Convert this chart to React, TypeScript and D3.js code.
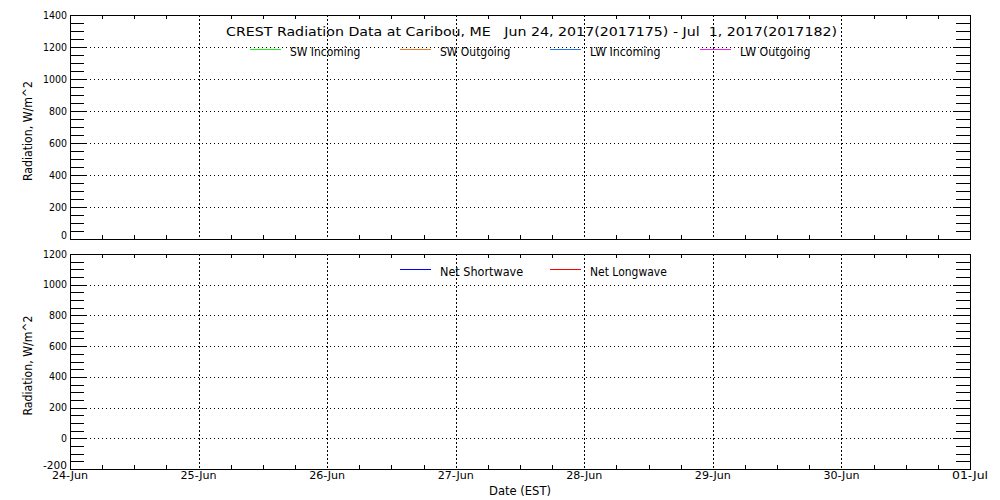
import React, { useEffect, useRef } from 'react';
import * as d3 from 'd3';

// chart text and values
const titleText = 'CREST Radiation Data at Caribou, ME   Jun 24, 2017(2017175) - Jul  1, 2017(2017182)';
const xAxisTitle = 'Date (EST)';
const yAxisTitle = 'Radiation, W/m^2';
const dateStart = '2017-06-24';
const dateEnd = '2017-07-01';
const dayLabels = ['24-Jun', '25-Jun', '26-Jun', '27-Jun', '28-Jun', '29-Jun', '30-Jun', '01-Jul'];
const topYTicks = [0, 200, 400, 600, 800, 1000, 1200, 1400];
const bottomYTicks = [-200, 0, 200, 400, 600, 800, 1000, 1200];
const topSeries = ['SW Incoming', 'SW Outgoing', 'LW Incoming', 'LW Outgoing'];
const bottomSeries = ['Net Shortwave', 'Net Longwave'];
// no measurements in this window: every series is empty
const swIncoming: [string, number][] = [];
const swOutgoing: [string, number][] = [];
const lwIncoming: [string, number][] = [];
const lwOutgoing: [string, number][] = [];
const netShortwave: [string, number][] = [];
const netLongwave: [string, number][] = [];

const seriesColor: Record<string, string> = {
  'SW Incoming': '#22ee22',
  'SW Outgoing': '#ee7722',
  'LW Incoming': '#2277ee',
  'LW Outgoing': '#ee22ee',
  'Net Shortwave': '#0000ff',
  'Net Longwave': '#ff0000',
};
const seriesData: Record<string, [string, number][]> = {
  'SW Incoming': swIncoming,
  'SW Outgoing': swOutgoing,
  'LW Incoming': lwIncoming,
  'LW Outgoing': lwOutgoing,
  'Net Shortwave': netShortwave,
  'Net Longwave': netLongwave,
};

const W = 1000;
const H = 500;
const left = 70;
const right = 970;
const FONT = 'DejaVu Sans';

const App: React.FC = () => {
  const ref = useRef<SVGSVGElement>(null);

  useEffect(() => {
    if (!ref.current) return;
    const svg = d3.select(ref.current);
    svg.selectAll('*').remove();

    const parse = d3.timeParse('%Y-%m-%d');
    const x = d3.scaleTime().domain([parse(dateStart)!, parse(dateEnd)!]).range([left, right]);
    const dayTicks = x.ticks(d3.timeDay.every(1)!);
    const minorX = x.ticks(d3.timeHour.every(6)!).filter((d) => d.getHours() !== 0);

    const panels = [
      { ticks: topYTicks, top: 15, bottom: 239, series: topSeries, legendY: 49.5, legendX0: 250, showX: false },
      { ticks: bottomYTicks, top: 254, bottom: 469, series: bottomSeries, legendX0: 400, legendY: 269.5, showX: true },
    ];

    panels.forEach((p) => {
      const lo = d3.min(p.ticks)!;
      const hi = d3.max(p.ticks)!;
      const y = d3.scaleLinear().domain([lo, hi]).range([p.bottom, p.top]);
      const g = svg.append('g').attr('shape-rendering', 'crispEdges');
      const px = (v: number) => Math.round(v) + 0.5;

      // horizontal dotted grid
      p.ticks
        .filter((t) => t !== lo && t !== hi)
        .forEach((t) => {
          g.append('line')
            .attr('x1', left).attr('x2', right)
            .attr('y1', px(y(t))).attr('y2', px(y(t)))
            .attr('stroke', '#000').attr('stroke-dasharray', '1,3');
          [[left, left + 17], [right - 17, right]].forEach(([a, b]) => {
            g.append('line')
              .attr('x1', a).attr('x2', b)
              .attr('y1', px(y(t))).attr('y2', px(y(t)))
              .attr('stroke', '#000');
          });
        });

      // minor y ticks every 50
      d3.range(lo, hi, 50)
        .filter((v) => v % 200 !== 0)
        .forEach((v) => {
          [[left, left + 14], [right - 14, right]].forEach(([a, b]) => {
            g.append('line')
              .attr('x1', a).attr('x2', b)
              .attr('y1', px(y(v))).attr('y2', px(y(v)))
              .attr('stroke', '#000');
          });
        });

      // vertical dashed day grid
      dayTicks.slice(1, -1).forEach((d) => {
        g.append('line')
          .attr('x1', px(x(d))).attr('x2', px(x(d)))
          .attr('y1', p.top).attr('y2', p.bottom)
          .attr('stroke', '#000').attr('stroke-dasharray', '2,2');
      });

      // minor x ticks every 6 hours
      minorX.forEach((d) => {
        [[p.top, p.top + 4], [p.bottom - 4, p.bottom]].forEach(([a, b]) => {
          g.append('line')
            .attr('x1', px(x(d))).attr('x2', px(x(d)))
            .attr('y1', a).attr('y2', b)
            .attr('stroke', '#000');
        });
      });

      // frame
      g.append('rect')
        .attr('x', left + 0.5).attr('y', p.top + 0.5)
        .attr('width', right - left).attr('height', p.bottom - p.top)
        .attr('fill', 'none').attr('stroke', '#000');

      // series lines (empty in this period)
      const line = d3
        .line<[string, number]>()
        .x((d) => x(d3.isoParse(d[0])!))
        .y((d) => y(d[1]));
      p.series.forEach((s) => {
        svg.append('path')
          .datum(seriesData[s])
          .attr('d', line)
          .attr('fill', 'none')
          .attr('stroke', seriesColor[s]);
      });

      // y tick labels (lowest one is lifted off the axis, like the original)
      p.ticks.forEach((t) => {
        svg.append('text')
          .attr('x', 67).attr('y', y(t) + (t === lo ? 0 : 3.5))
          .attr('text-anchor', 'end')
          .attr('font-family', FONT).attr('font-size', 10)
          .attr('textLength', String(t).length * 6).attr('lengthAdjust', 'spacingAndGlyphs')
          .text(String(t));
      });

      // y axis title
      const cy = (p.top + p.bottom) / 2 + 4;
      svg.append('text')
        .attr('transform', `translate(32,${cy}) rotate(-90)`)
        .attr('text-anchor', 'middle')
        .attr('font-family', FONT).attr('font-size', 13)
        .attr('textLength', 100).attr('lengthAdjust', 'spacingAndGlyphs')
        .text(yAxisTitle);

      // legend
      p.series.forEach((s, i) => {
        const lx = p.legendX0 + i * 150;
        svg.append('line')
          .attr('x1', lx).attr('x2', lx + 31)
          .attr('y1', p.legendY).attr('y2', p.legendY)
          .attr('stroke', seriesColor[s]).attr('stroke-width', 1)
          .attr('shape-rendering', 'crispEdges');
        svg.append('text')
          .attr('x', lx + 40).attr('y', p.legendY + 6.5)
          .attr('font-family', FONT).attr('font-size', 13)
          .attr('textLength', s.length * 6.4).attr('lengthAdjust', 'spacingAndGlyphs')
          .text(s);
      });

      // x tick labels
      if (p.showX) {
        dayTicks.forEach((d, i) => {
          svg.append('text')
            .attr('x', x(d)).attr('y', 479)
            .attr('text-anchor', 'middle')
            .attr('font-family', FONT).attr('font-size', 10)
            .attr('textLength', 36).attr('lengthAdjust', 'spacingAndGlyphs')
            .text(dayLabels[i]);
        });
        svg.append('text')
          .attr('x', (left + right) / 2).attr('y', 495)
          .attr('text-anchor', 'middle')
          .attr('font-family', FONT).attr('font-size', 13)
          .attr('textLength', 62).attr('lengthAdjust', 'spacingAndGlyphs')
          .text(xAxisTitle);
      }
    });

    // title
    svg.append('text')
      .attr('x', 226).attr('y', 36)
      .attr('font-family', FONT).attr('font-size', 13)
      .attr('textLength', 611).attr('lengthAdjust', 'spacingAndGlyphs')
      .style('white-space', 'pre')
      .text(titleText);
  }, []);

  return (
    <svg
      ref={ref}
      width={W}
      height={H}
      style={{ position: 'absolute', left: 0, top: 0, background: '#fff', display: 'block' }}
    />
  );
};

export default App;
